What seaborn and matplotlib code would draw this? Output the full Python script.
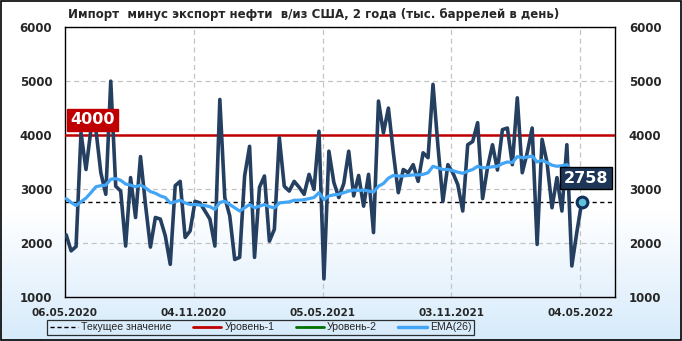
import numpy as np
import pandas as pd
import matplotlib
matplotlib.use("Agg")
import matplotlib.pyplot as plt
import matplotlib.dates as mdates
from matplotlib.patches import Rectangle
from matplotlib.lines import Line2D
import seaborn as sns

# ---- data ----
start_date = "2020-05-08"
net_imports = [
    2150, 1850, 1930, 4040, 3360, 4100, 4100, 3300, 2900, 5000,
    3050, 2960, 1940, 3210, 2470, 3600, 2710, 1920, 2470, 2440,
    2130, 1600, 3060, 3140, 2100, 2220, 2770, 2740, 2590, 2440,
    1940, 4660, 2840, 2500, 1690, 1730, 3240, 3790, 1730, 3030,
    3240, 2030, 2250, 3950, 3050, 2960, 3140, 3030, 2900, 3270,
    2990, 4070, 1330, 3700, 3120, 2840, 3100, 3700, 2870, 3250,
    2680, 3270, 2190, 4630, 4040, 4500, 3670, 2930, 3360, 3300,
    3450, 3140, 3670, 3580, 4940, 3790, 2770, 3450, 3300, 3080,
    2590, 3820, 3880, 4230, 2820, 3400, 3820, 3350, 4100, 4130,
    3450, 4690, 3300, 3670, 4130, 1970, 3920, 3490, 2650, 3210,
    2590, 3820, 1570, 2190, 2758,
]
ema26 = [
    2820, 2750, 2690, 2760, 2830, 2930, 3040, 3060, 3070, 3180,
    3190, 3160, 3090, 3070, 3040, 3070, 3020, 2950, 2920, 2870,
    2840, 2740, 2760, 2790, 2740, 2710, 2710, 2700, 2690, 2670,
    2620, 2750, 2770, 2710, 2650, 2590, 2650, 2710, 2650, 2680,
    2710, 2670, 2650, 2740, 2750, 2760, 2790, 2790, 2800, 2820,
    2840, 2930, 2800, 2870, 2890, 2900, 2930, 2960, 2980, 2970,
    2980, 2960, 2940, 3050, 3100, 3200, 3250, 3240, 3240, 3250,
    3260, 3260, 3270, 3300, 3420, 3390, 3360, 3360, 3340, 3310,
    3290, 3330, 3360, 3420, 3390, 3400, 3410, 3420, 3470, 3500,
    3490, 3600, 3580, 3590, 3610, 3500, 3530, 3490, 3440, 3420,
    3430, 3450, 3310, 3230, 3190,
]
level1 = 4000
current_value = 2758
tick_dates = ["2020-05-06", "2020-11-04", "2021-05-05", "2021-11-03", "2022-05-04"]
tick_labels = ["06.05.2020", "04.11.2020", "05.05.2021", "03.11.2021", "04.05.2022"]
y_ticks = [1000, 2000, 3000, 4000, 5000, 6000]
title = "Импорт  минус экспорт нефти  в/из США, 2 года (тыс. баррелей в день)"
legend_labels = ["Текущее значение", "Уровень-1", "Уровень-2", "EMA(26)"]

dates = pd.date_range(start_date, periods=len(net_imports), freq="7D")
df = pd.DataFrame({"date": dates, "value": net_imports, "ema": ema26})

sns.set_theme(style="white")
plt.rcParams["font.family"] = ["DejaVu Sans"]

NAVY = "#243f60"
EMA_C = "#42a5f5"
RED = "#c00000"
GREEN = "#007000"

fig = plt.figure(figsize=(6.82, 3.41), dpi=100)

# figure background gradient
bg = fig.add_axes([0, 0, 1, 1], zorder=-10)
bg.axis("off")
n = 200
t = np.linspace(0, 1, n)  # 0 top -> 1 bottom
w = np.clip((t - 0.62) / 0.38, 0, 1)
c0 = np.array([1.0, 1.0, 1.0])
c1 = np.array([0.84, 0.92, 0.985])
grad = (c0[None, :] * (1 - w[:, None]) + c1[None, :] * w[:, None])[:, None, :]
bg.imshow(grad, aspect="auto", extent=[0, 1, 0, 1], transform=bg.transAxes)
bg.set_xlim(0, 1); bg.set_ylim(0, 1)

ax = fig.add_axes([0.0949, 0.130, 0.8069, 0.790])
ax.patch.set_alpha(0)

x0 = pd.Timestamp("2020-05-06")
x1 = pd.Timestamp("2022-06-22")
ax.set_xlim(x0, x1)
ax.set_ylim(1000, 6000)

# grid
for yv in y_ticks[1:]:
    ax.axhline(yv, color="#c4c4c4", lw=0.9, ls=(0, (4, 3)), zorder=1)
for d in tick_dates[1:]:
    ax.axvline(pd.Timestamp(d), color="#c4c4c4", lw=0.9, ls=(0, (4, 3)), zorder=1)

ax.axhline(current_value, color="black", lw=1.0, ls=(0, (3, 2.5)), zorder=2)
ax.axhline(level1, color=RED, lw=1.8, zorder=3)

sns.lineplot(data=df, x="date", y="value", ax=ax, color=NAVY, lw=2.6, zorder=4,
             legend=False)
sns.lineplot(data=df, x="date", y="ema", ax=ax, color=EMA_C, lw=2.3, zorder=5,
             legend=False)

ax.scatter([dates[-1]], [net_imports[-1]], s=60, facecolor="#5ec2d8",
           edgecolor="#14305a", linewidth=2.2, zorder=7)

ax.set_xlabel(""); ax.set_ylabel("")
ax.set_xticks([pd.Timestamp(d) for d in tick_dates])
ax.set_xticklabels(tick_labels, fontsize=7.5, fontweight="bold")
ax.set_yticks(y_ticks)
ax.set_yticklabels([str(v) for v in y_ticks], fontsize=8.5, fontweight="bold")
ax.tick_params(axis="x", length=0, pad=8)
ax.tick_params(axis="y", length=0, pad=9)
for s in ax.spines.values():
    s.set_color("black"); s.set_linewidth(1.0)

ax2 = ax.twinx()
ax2.set_ylim(1000, 6000)
ax2.set_yticks(y_ticks)
ax2.set_yticklabels([str(v) for v in y_ticks], fontsize=8.5, fontweight="bold")
ax2.tick_params(axis="y", length=0, pad=10)
ax2.grid(False)
for s in ax2.spines.values():
    s.set_visible(False)

# level label
ax.text(pd.Timestamp("2020-06-14"), level1 + 280, "4000", color="white",
        fontsize=11.5, fontweight="bold", va="center", ha="center", zorder=8,
        bbox=dict(boxstyle="square,pad=0.2", fc=RED, ec=RED))
# current value label
ax.text(pd.Timestamp("2022-05-12"), 3200, str(current_value), color="white",
        fontsize=11.5, fontweight="bold", va="center", ha="center", zorder=8,
        bbox=dict(boxstyle="square,pad=0.22", fc="#1d3557", ec="black", lw=1))

fig.text(0.1, 0.957, title, fontsize=8.5, fontweight="bold", va="center", ha="left")

handles = [
    Line2D([], [], color="black", lw=1.0, ls=(0, (3, 2))),
    Line2D([], [], color=RED, lw=2),
    Line2D([], [], color=GREEN, lw=2),
    Line2D([], [], color=EMA_C, lw=2.5),
]
leg = fig.legend(handles, legend_labels, loc="center", ncol=4,
                 bbox_to_anchor=(0.382, 0.0396), frameon=True,
                 prop={"family": "Liberation Sans", "size": 7.6},
                 fancybox=False, edgecolor="black", handlelength=2.7,
                 handletextpad=0.3, columnspacing=2.0, borderpad=0.25,
                 borderaxespad=0)
leg.get_frame().set_linewidth(0.9)
leg.get_frame().set_facecolor("none")

fig.add_artist(Rectangle((0.001, 0.002), 0.997, 0.995, transform=fig.transFigure,
                         fill=False, ec="black", lw=1.2))

fig.savefig("out.png", dpi=100)
